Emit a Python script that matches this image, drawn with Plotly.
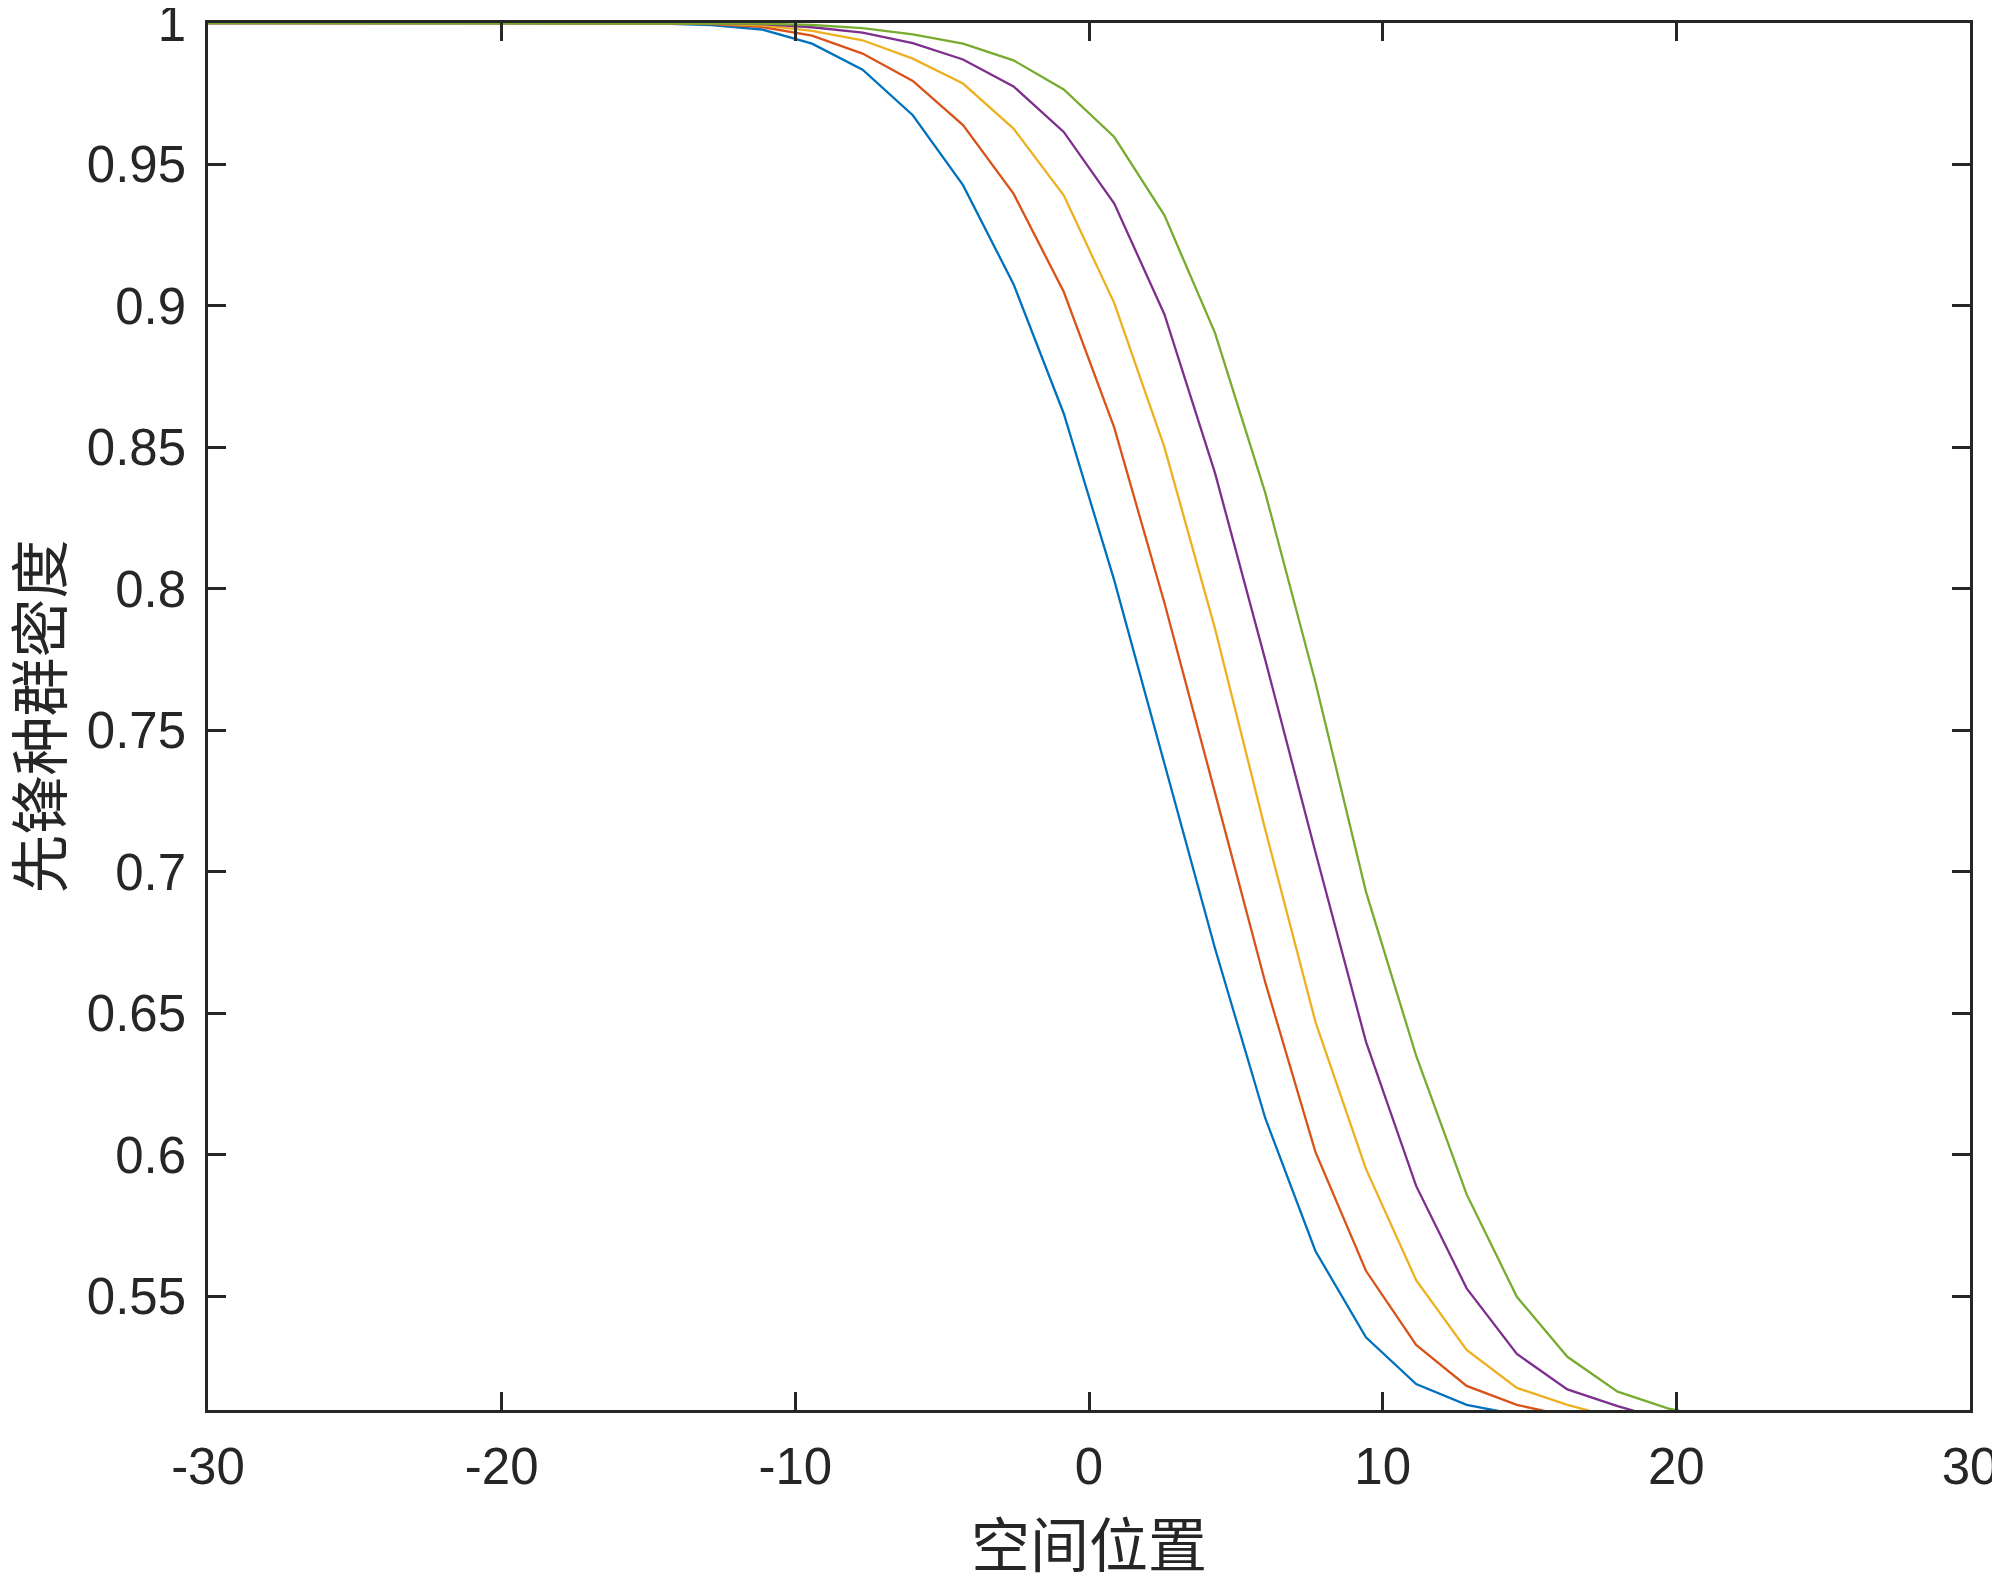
import plotly.graph_objects as go

# spatial grid (36 points from -30 to 30)
x = [-30.00, -28.29, -26.57, -24.86, -23.14, -21.43, -19.71, -18.00, -16.29,
     -14.57, -12.86, -11.14, -9.43, -7.71, -6.00, -4.29, -2.57, -0.86,
     0.86, 2.57, 4.29, 6.00, 7.71, 9.43, 11.14, 12.86, 14.57, 16.29,
     18.00, 19.71, 21.43, 23.14, 24.86, 26.57, 28.29, 30.00]

# pioneer population density at successive times
u1 = [1.0, 1.0, 1.0, 1.0, 1.0, 1.0, 1.0, 1.0, 1.0,
      0.9998, 0.9993, 0.9977, 0.9927, 0.9835, 0.9674, 0.9427, 0.9077, 0.8620,
      0.8030, 0.7380, 0.6730, 0.6130, 0.5660, 0.5355, 0.5190, 0.5116, 0.5082, 0.5065,
      0.5055, 0.5048, 0.5043, 0.5040, 0.5037, 0.5035, 0.5033, 0.5032]
u2 = [1.0, 1.0, 1.0, 1.0, 1.0, 1.0, 1.0, 1.0, 1.0,
      0.9999, 0.9996, 0.9986, 0.9955, 0.9892, 0.9795, 0.9639, 0.9397, 0.9050,
      0.8570, 0.7950, 0.7280, 0.6610, 0.6010, 0.5590, 0.5328, 0.5183, 0.5116, 0.5077,
      0.5060, 0.5050, 0.5044, 0.5040, 0.5037, 0.5035, 0.5033, 0.5032]
u3 = [1.0, 1.0, 1.0, 1.0, 1.0, 1.0, 1.0, 1.0, 1.0,
      0.9999, 0.9998, 0.9992, 0.9972, 0.9939, 0.9874, 0.9786, 0.9627, 0.9391,
      0.9010, 0.8500, 0.7860, 0.7150, 0.6470, 0.5950, 0.5557, 0.5310, 0.5176, 0.5116,
      0.5069, 0.5055, 0.5046, 0.5041, 0.5038, 0.5035, 0.5033, 0.5032]
u4 = [1.0, 1.0, 1.0, 1.0, 1.0, 1.0, 1.0, 1.0, 1.0,
      1.0, 0.9999, 0.9996, 0.9985, 0.9966, 0.9929, 0.9871, 0.9776, 0.9615,
      0.9362, 0.8970, 0.8410, 0.7750, 0.7070, 0.6400, 0.5890, 0.5528, 0.5296, 0.5171,
      0.5112, 0.5060, 0.5048, 0.5042, 0.5038, 0.5035, 0.5033, 0.5032]
u5 = [1.0, 1.0, 1.0, 1.0, 1.0, 1.0, 1.0, 1.0, 1.0,
      1.0, 0.9999, 0.9998, 0.9993, 0.9982, 0.9960, 0.9927, 0.9868, 0.9765,
      0.9597, 0.9320, 0.8905, 0.8340, 0.7670, 0.6930, 0.6350, 0.5860, 0.5498, 0.5286,
      0.5163, 0.5104, 0.5065, 0.5050, 0.5042, 0.5037, 0.5034, 0.5032]

series = [u1, u2, u3, u4, u5]
colors = ["#0072BD", "#D95319", "#EDB120", "#7E2F8E", "#77AC30"]

ytickvals = [0.55, 0.6, 0.65, 0.7, 0.75, 0.8, 0.85, 0.9, 0.95, 1.0]
yticktext = ["0.55", "0.6", "0.65", "0.7", "0.75", "0.8", "0.85", "0.9", "0.95", "1"]

xlabel = "空间位置"
ylabel = "先锋种群密度"

fig = go.Figure()
for u, c in zip(series, colors):
    fig.add_trace(go.Scatter(x=x, y=u, mode="lines",
                             line=dict(color=c, width=2.3), showlegend=False))

axis_style = dict(showline=True, mirror="ticks", linecolor="#262626", linewidth=2.5,
                  ticks="inside", ticklen=18, tickwidth=2.5, tickcolor="#262626",
                  showgrid=False, zeroline=False, automargin=False,
                  ticklabeloverflow="allow",
                  tickfont=dict(family="Liberation Sans, Arial", size=51, color="#262626"))

fig.update_xaxes(range=[-30, 30], tickvals=[-30, -20, -10, 0, 10, 20, 30],
                 ticktext=["-30", "-20", "-10", "0", "10", "20", "30"],
                 ticklabelstandoff=10, **axis_style)
fig.update_yaxes(range=[0.5098, 1.0], tickvals=ytickvals, ticktext=yticktext,
                 ticklabelstandoff=9, **axis_style)

title_font = dict(family="Noto Sans CJK SC", size=59, color="#262626")
fig.add_annotation(text=xlabel, xref="paper", yref="paper", x=0.5, y=0,
                   xanchor="center", yanchor="middle", yshift=-131,
                   showarrow=False, font=title_font)
fig.add_annotation(text=ylabel, xref="paper", yref="paper", x=0, y=0.5,
                   xanchor="center", yanchor="middle", xshift=-172, textangle=-90,
                   showarrow=False, font=title_font)

# the page body adds an 8px offset, so the figure is 8px smaller each way
fig.update_layout(width=1992, height=1566,
                  margin=dict(l=200, r=30, t=15, b=164),
                  paper_bgcolor="white", plot_bgcolor="white")

fig.write_html("out.html")
